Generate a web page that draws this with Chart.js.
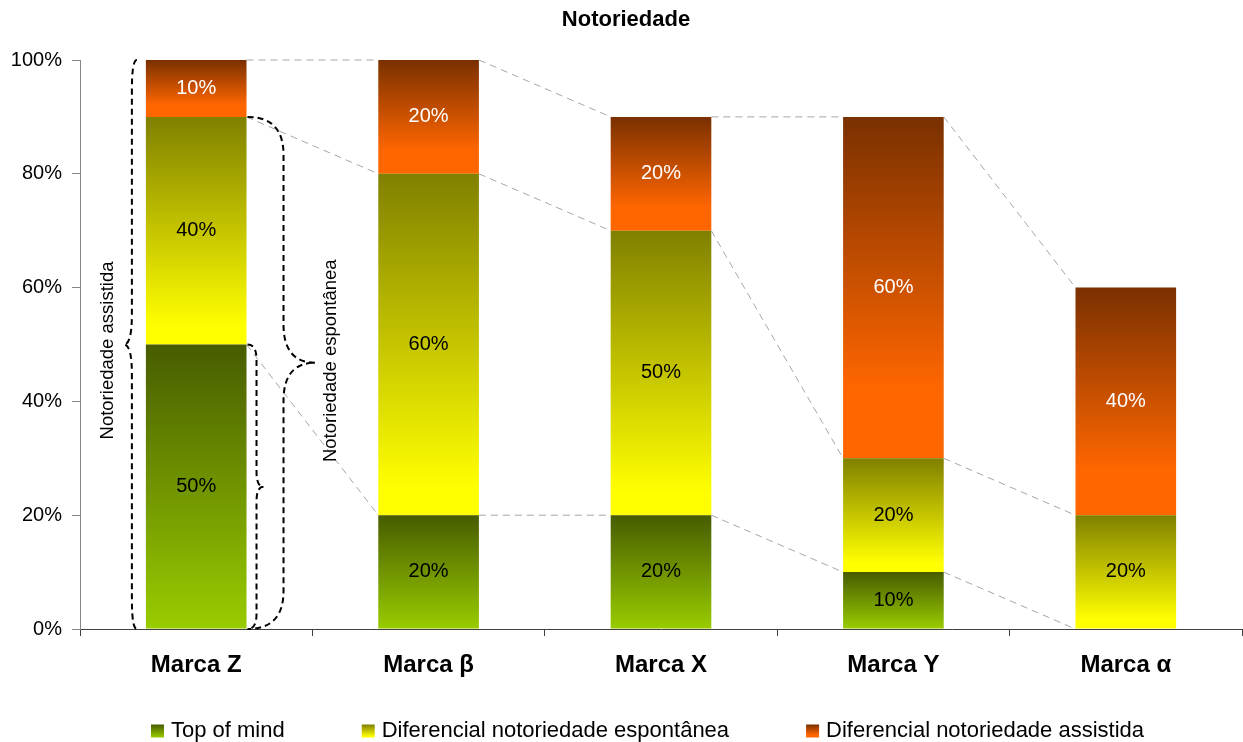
<!DOCTYPE html>
<html>
<head>
<meta charset="utf-8">
<title>Notoriedade</title>
<script src="https://cdn.jsdelivr.net/npm/chart.js@4.4.1/dist/chart.umd.min.js"></script>
<style>
  html, body { margin: 0; padding: 0; background: #ffffff; }
  canvas { display: block; }
</style>
</head>
<body>
<canvas id="chart" width="1243" height="742"></canvas>
<script>
// ---- data ----
const categories = ['Marca Z', 'Marca β', 'Marca X', 'Marca Y', 'Marca α'];
const topOfMind = [50, 20, 20, 10, 0];
const difEspontanea = [40, 60, 50, 20, 20];
const difAssistida = [10, 20, 20, 60, 40];
const seriesNames = ['Top of mind', 'Diferencial notoriedade espontânea', 'Diferencial notoriedade assistida'];
const yTickValues = [0, 20, 40, 60, 80, 100];
const chartTitle = 'Notoriedade';
const braceLabels = ['Notoriedade assistida', 'Notoriedade espontânea'];

// ---- styling ----
const FONT = '"Liberation Sans", Arial, Helvetica, sans-serif';
const stacks = [topOfMind, difEspontanea, difAssistida];
const gradientStops = [
  [[0, '#475c00'], [1, '#99cc00']],
  [[0, '#808000'], [0.92, '#ffff00'], [1, '#ffff00']],
  [[0, '#7a3000'], [0.8, '#ff6600'], [1, '#ff6600']]
];
const labelColors = ['#000000', '#000000', '#ffffff'];

// vertical gradient spanning each stacked segment
function segmentFill(series) {
  return (ctx) => {
    const chart = ctx.chart;
    const y = chart.scales && chart.scales.y;
    const stops = gradientStops[series];
    if (!y || !chart.chartArea || ctx.dataIndex === undefined) return stops[stops.length - 1][1];
    let base = 0;
    for (let k = 0; k < series; k++) base += stacks[k][ctx.dataIndex];
    const top = base + stacks[series][ctx.dataIndex];
    const y0 = y.getPixelForValue(top);
    const y1 = y.getPixelForValue(base);
    if (!isFinite(y0) || !isFinite(y1) || y0 === y1) return stops[0][1];
    const g = chart.ctx.createLinearGradient(0, y0, 0, y1);
    stops.forEach(([o, c]) => g.addColorStop(o, c));
    return g;
  };
}

// dashed series lines joining the segment tops of neighbouring bars
const seriesLines = {
  id: 'seriesLines',
  afterDatasetsDraw(chart) {
    const ctx = chart.ctx;
    ctx.save();
    ctx.strokeStyle = '#a6a6a6';
    ctx.lineWidth = 1;
    ctx.setLineDash([7, 5]);
    for (let d = 0; d < stacks.length; d++) {
      const els = chart.getDatasetMeta(d).data;
      for (let i = 0; i < els.length - 1; i++) {
        const a = els[i], b = els[i + 1];
        ctx.beginPath();
        ctx.moveTo(a.x + a.width / 2, a.y);
        ctx.lineTo(b.x - b.width / 2, b.y);
        ctx.stroke();
      }
    }
    ctx.restore();
  }
};

// value labels in the middle of each segment
const valueLabels = {
  id: 'valueLabels',
  afterDatasetsDraw(chart) {
    const ctx = chart.ctx;
    ctx.save();
    ctx.font = '20px ' + FONT;
    ctx.textAlign = 'center';
    ctx.textBaseline = 'middle';
    for (let d = 0; d < stacks.length; d++) {
      const els = chart.getDatasetMeta(d).data;
      els.forEach((el, i) => {
        const v = stacks[d][i];
        if (!v) return;
        ctx.fillStyle = labelColors[d];
        ctx.fillText(v + '%', el.x, (el.y + el.base) / 2);
      });
    }
    ctx.restore();
  }
};

function brace(ctx, xEnd, xSpine, xTip, yTop, yBot, yTip, r) {
  ctx.beginPath();
  ctx.moveTo(xEnd, yTop);
  ctx.quadraticCurveTo(xSpine, yTop, xSpine, yTop + r);
  ctx.lineTo(xSpine, yTip - r);
  ctx.quadraticCurveTo(xSpine, yTip, xTip, yTip);
  ctx.quadraticCurveTo(xSpine, yTip, xSpine, yTip + r);
  ctx.lineTo(xSpine, yBot - r);
  ctx.quadraticCurveTo(xSpine, yBot, xEnd, yBot);
  ctx.stroke();
}

// curly braces and their labels around the first bar
const braces = {
  id: 'braces',
  afterDraw(chart) {
    const ctx = chart.ctx;
    const y = chart.scales.y;
    const bar = chart.getDatasetMeta(0).data[0];
    const left = bar.x - bar.width / 2;
    const right = bar.x + bar.width / 2;
    const p = v => y.getPixelForValue(v);
    const total = topOfMind[0] + difEspontanea[0] + difAssistida[0];
    const spont = topOfMind[0] + difEspontanea[0];
    ctx.save();
    ctx.strokeStyle = '#000000';
    ctx.lineWidth = 2;
    ctx.setLineDash([6, 4]);
    brace(ctx, left - 9, left - 14, left - 22, p(total), p(0), p(total / 2), 30);
    brace(ctx, right + 1, right + 10, right + 17, p(topOfMind[0]), p(0), p(topOfMind[0] / 2), 15);
    brace(ctx, right + 1, right + 37, right + 69, p(spont), p(0), p(spont * 0.52), 38);
    ctx.setLineDash([]);
    ctx.fillStyle = '#000000';
    ctx.font = '18.5px ' + FONT;
    ctx.textAlign = 'center';
    ctx.textBaseline = 'middle';
    ctx.save();
    ctx.translate(left - 38, p(total / 2) + 6);
    ctx.rotate(-Math.PI / 2);
    ctx.fillText(braceLabels[0], 0, 0);
    ctx.restore();
    ctx.save();
    ctx.translate(right + 84, p(spont * 0.52) - 2);
    ctx.rotate(-Math.PI / 2);
    ctx.fillText(braceLabels[1], 0, 0);
    ctx.restore();
    ctx.restore();
  }
};

// title and legend
const titleAndLegend = {
  id: 'titleAndLegend',
  afterDraw(chart) {
    const ctx = chart.ctx;
    ctx.save();
    ctx.fillStyle = '#000000';
    ctx.font = 'bold 22px ' + FONT;
    ctx.textAlign = 'center';
    ctx.textBaseline = 'middle';
    ctx.fillText(chartTitle, 626, 20);

    ctx.font = '22px ' + FONT;
    ctx.textAlign = 'left';
    const box = 13, boxGap = 7, itemGap = 77, yMid = 731;
    let x = 151;
    seriesNames.forEach((name, s) => {
      const g = ctx.createLinearGradient(0, yMid - box / 2, 0, yMid + box / 2);
      gradientStops[s].forEach(([o, c]) => g.addColorStop(o, c));
      ctx.fillStyle = g;
      ctx.fillRect(x, yMid - box / 2, box, box);
      ctx.fillStyle = '#000000';
      ctx.fillText(name, x + box + boxGap, yMid);
      x += box + boxGap + ctx.measureText(name).width + itemGap;
    });
    ctx.restore();
  }
};

new Chart(document.getElementById('chart'), {
  type: 'bar',
  data: {
    labels: categories,
    datasets: stacks.map((values, s) => ({
      label: seriesNames[s],
      data: values,
      backgroundColor: segmentFill(s),
      borderWidth: 0,
      barPercentage: 0.433,
      categoryPercentage: 1.0
    }))
  },
  options: {
    responsive: false,
    devicePixelRatio: 1,
    animation: false,
    layout: { padding: { top: 60, right: 1, bottom: 0, left: 0 } },
    plugins: {
      legend: { display: false },
      title: { display: false },
      tooltip: { enabled: false }
    },
    scales: {
      x: {
        stacked: true,
        offset: true,
        border: { display: true, color: '#404040', width: 1 },
        grid: { offset: true, drawOnChartArea: false, drawTicks: true, tickLength: 7, color: '#404040' },
        ticks: { color: '#000000', padding: 15, font: { family: FONT, size: 24, weight: 'bold' } },
        afterFit(scale) { scale.height = 113; }
      },
      y: {
        stacked: true,
        min: 0,
        max: 100,
        afterBuildTicks(scale) { scale.ticks = yTickValues.map(v => ({ value: v })); },
        border: { display: true, color: '#868686', width: 1 },
        grid: { drawOnChartArea: false, drawTicks: true, tickLength: 8, color: '#868686' },
        ticks: {
          color: '#000000',
          padding: 10,
          font: { family: FONT, size: 20 },
          callback: v => v + '%'
        },
        afterFit(scale) { scale.width = 80; }
      }
    }
  },
  plugins: [seriesLines, valueLabels, braces, titleAndLegend]
});
</script>
</body>
</html>
